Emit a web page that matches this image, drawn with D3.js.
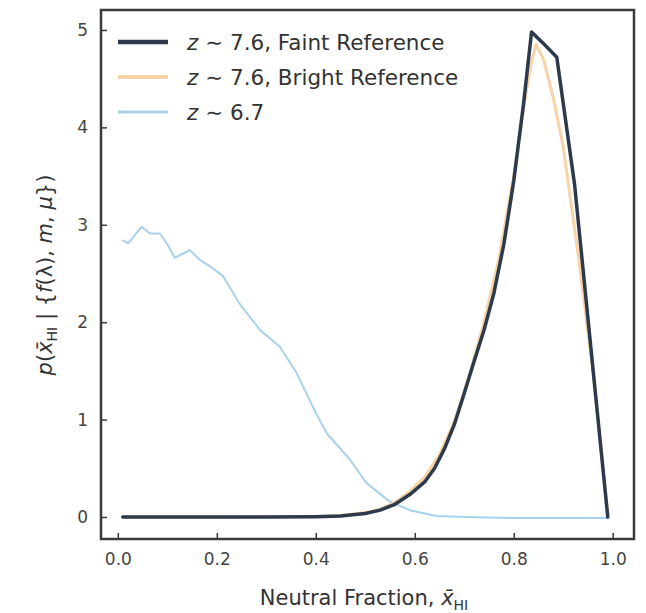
<!DOCTYPE html>
<html>
<head>
<meta charset="utf-8">
<script src="https://cdn.jsdelivr.net/npm/d3@7/dist/d3.min.js"></script>
<style>
  html, body { margin: 0; padding: 0; background: #ffffff; }
  svg { display: block; font-family: "DejaVu Sans", sans-serif; }
</style>
</head>
<body>
<svg id="chart" width="646" height="613"></svg>
<script>
// Posterior of the IGM neutral fraction for three samples
const xFaint = [0.01, 0.1, 0.2, 0.3, 0.4, 0.45, 0.5, 0.53, 0.56, 0.59, 0.62, 0.64, 0.66, 0.68, 0.70, 0.72, 0.74, 0.76, 0.78, 0.80, 0.82, 0.836, 0.862, 0.887, 0.923, 0.99];
const yFaint = [0, 0, 0, 0, 0.003, 0.01, 0.035, 0.07, 0.13, 0.23, 0.36, 0.5, 0.7, 0.95, 1.27, 1.6, 1.92, 2.3, 2.8, 3.45, 4.25, 4.98, 4.85, 4.72, 3.41, 0];

const xBright = [0.01, 0.2, 0.4, 0.45, 0.5, 0.53, 0.56, 0.59, 0.62, 0.65, 0.68, 0.71, 0.74, 0.77, 0.80, 0.82, 0.835, 0.845, 0.86, 0.88, 0.9, 0.93, 0.96, 0.99];
const yBright = [0, 0, 0.005, 0.015, 0.045, 0.08, 0.15, 0.26, 0.41, 0.64, 0.98, 1.45, 2.0, 2.65, 3.5, 4.2, 4.65, 4.85, 4.7, 4.3, 3.8, 2.7, 1.5, 0.03];

const xLow = [0.01, 0.021, 0.035, 0.048, 0.065, 0.085, 0.1, 0.115, 0.13, 0.145, 0.166, 0.19, 0.213, 0.246, 0.287, 0.327, 0.361, 0.401, 0.422, 0.469, 0.502, 0.549, 0.59, 0.644, 0.7, 0.8, 0.9, 0.99];
const yLow = [2.84, 2.81, 2.9, 2.98, 2.91, 2.91, 2.8, 2.66, 2.7, 2.74, 2.64, 2.56, 2.47, 2.19, 1.92, 1.75, 1.48, 1.06, 0.86, 0.59, 0.35, 0.16, 0.07, 0.01, 0, -0.01, -0.01, -0.01];

const xTicks = [0.0, 0.2, 0.4, 0.6, 0.8, 1.0];
const yTicks = [0, 1, 2, 3, 4, 5];

const seriesNames = ["z ∼ 7.6, Faint Reference", "z ∼ 7.6, Bright Reference", "z ∼ 6.7"];
const seriesColors = ["#2d3a4c", "#f7d3a6", "#a8d1ea"];
const seriesWidths = [3.5, 3, 2];

const svg = d3.select("#chart");
const frame = { left: 101, right: 634, top: 10, bottom: 539 };

const x = d3.scaleLinear().domain([-0.034, 1.043]).range([frame.left, frame.right]);
const y = d3.scaleLinear().domain([-0.226, 5.205]).range([frame.bottom, frame.top]);

const series = [
  { xs: xFaint, ys: yFaint },
  { xs: xBright, ys: yBright },
  { xs: xLow, ys: yLow }
].map((s, i) => ({
  name: seriesNames[i], color: seriesColors[i], width: seriesWidths[i],
  pts: s.xs.map((v, j) => [v, s.ys[j]])
}));

const line = d3.line().x(d => x(d[0])).y(d => y(d[1]));

// draw order: low-z curve underneath, bright reference, faint reference on top
const drawOrder = [2, 1, 0];
svg.append("g").selectAll("path")
  .data(drawOrder.map(i => series[i]))
  .join("path")
  .attr("d", d => line(d.pts))
  .attr("fill", "none")
  .attr("stroke", d => d.color)
  .attr("stroke-width", d => d.width)
  .attr("stroke-linejoin", "round")
  .attr("stroke-linecap", "round");

// axes with inward ticks
const xAxis = d3.axisBottom(x).tickValues(xTicks).tickFormat(d3.format(".1f")).tickSizeInner(-6).tickSizeOuter(0).tickPadding(14);
const yAxis = d3.axisLeft(y).tickValues(yTicks).tickFormat(d3.format("d")).tickSizeInner(-6).tickSizeOuter(0).tickPadding(13);

const gx = svg.append("g").attr("transform", `translate(0,${frame.bottom})`).call(xAxis);
const gy = svg.append("g").attr("transform", `translate(${frame.left},0)`).call(yAxis);
[gx, gy].forEach(g => {
  g.select(".domain").remove();
  g.selectAll(".tick line").attr("stroke", "#3a3a3a").attr("stroke-width", 1.5);
  g.selectAll(".tick text").attr("fill", "#444").attr("font-size", 17)
    .attr("font-family", "DejaVu Sans, sans-serif");
});

// plot frame
svg.append("rect")
  .attr("x", frame.left).attr("y", frame.top)
  .attr("width", frame.right - frame.left).attr("height", frame.bottom - frame.top)
  .attr("fill", "none").attr("stroke", "#3a3a3a").attr("stroke-width", 2.5);

// legend
const legend = svg.append("g");
const rowY = [42, 77, 112];
series.forEach((s, i) => {
  legend.append("line")
    .attr("x1", 118).attr("x2", 168)
    .attr("y1", rowY[i]).attr("y2", rowY[i])
    .attr("stroke", s.color).attr("stroke-width", s.width + 1);
  const t = legend.append("text")
    .attr("x", 187).attr("y", rowY[i]).attr("dy", "0.35em")
    .attr("font-size", 21.5).attr("fill", "#333");
  t.append("tspan").attr("font-style", "italic").text("z");
  t.append("tspan").text(s.name.slice(1));
});

// x-axis label
const xl = svg.append("text")
  .attr("x", 364).attr("y", 605)
  .attr("text-anchor", "middle").attr("font-size", 21).attr("fill", "#333");
xl.append("tspan").text("Neutral Fraction, ");
xl.append("tspan").attr("font-style", "italic").text("x\u0304");
xl.append("tspan").attr("font-size", 14).attr("dy", 5).text("HI");

// y-axis label
const yl = svg.append("text")
  .attr("transform", "translate(52,275) rotate(-90)")
  .attr("text-anchor", "middle").attr("font-size", 21).attr("fill", "#333");
yl.append("tspan").attr("font-style", "italic").text("p");
yl.append("tspan").text("(");
yl.append("tspan").attr("font-style", "italic").text("x\u0304");
yl.append("tspan").attr("font-size", 14).attr("dy", 5).text("HI");
yl.append("tspan").attr("dy", -5).text(" | {");
yl.append("tspan").attr("font-style", "italic").text("f");
yl.append("tspan").text("(λ), ");
yl.append("tspan").attr("font-style", "italic").text("m");
yl.append("tspan").text(", ");
yl.append("tspan").attr("font-style", "italic").text("μ");
yl.append("tspan").text("})");
</script>
</body>
</html>
